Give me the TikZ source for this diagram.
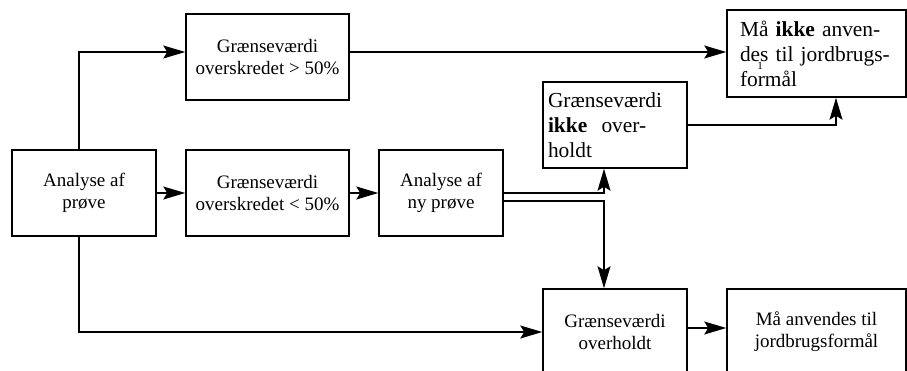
\documentclass[tikz,border=0pt]{standalone}
\usepackage{fontspec}
\setmainfont{Liberation Serif}
\usetikzlibrary{calc,arrows.meta}
\tikzset{
  boks/.style={draw,line width=1.5pt,rectangle,minimum height=86pt,inner sep=2pt,
    align=center,font=\fontsize{19}{22}\selectfont},
  vboks/.style={boks,align=left,font=\fontsize{21.4}{25}\selectfont},
  pil/.style={line width=1.2pt,-{Stealth[length=22pt,width=13pt,inset=4pt]}}
}

\begin{document}
\begin{tikzpicture}[x=1pt,y=-1pt]
				\useasboundingbox (0,0) rectangle (907,371);

	  			\node[boks,minimum width=144pt] 	(an)   at (84,193) 	{Analyse af\\prøve};
				\node[boks,minimum width=163pt] 	(gr1)  at (267.5,57) 	{Grænseværdi\\overskredet > 50\%};
				\node[boks,minimum width=163pt] 	(gr2)  at (267.5,193) 	{Grænseværdi\\overskredet < 50\%};
				\node[boks,minimum width=124pt] 	(ny)   at (441,193) 	{Analyse af\\ny prøve};
				\node[vboks,minimum width=144pt,inner xsep=5pt,text width=134pt] 	(ikke) at (615,125)
						{Grænseværdi\\\textbf{ikke}\ \ over-\\holdt};
				\node[vboks,minimum width=179pt,minimum height=87pt,inner xsep=13pt,text width=153pt] 	(mik)  at (816.5,53.5)
						{Må \textbf{ikke} anven-\\des til jordbrugs-\\formål};
				\node[font=\fontsize{11}{11}\selectfont,inner sep=0pt] 	(fn)   at (760,66) 	{1};
				\node[boks,minimum width=144pt] 	(ohd)  at (615,332) 	{Grænseværdi\\overholdt};
				\node[boks,minimum width=179pt] 	(ma)   at (816.5,332) 	{Må anvendes til\\jordbrugsformål};

				\draw[pil] ($(an.north)+(-5,0)$) |- ($(gr1.west)+(0,-5)$);
				\draw[pil] (an) -- (gr2);
				\draw[pil] (gr2) -- (ny);
				\draw[pil] ($(an.south)+(-5,0)$) |- (ohd.west);
				\draw[pil] ($(gr1.east)+(0,-5)$) -- ($(mik.west)+(0,-1.5)$);
				\draw[pil] (ny.east) -| ($(ikke.south)+(-11,0)$);
				\draw[pil] ($(ny.east)+(0,8)$) -| ($(ohd.north)+(-11,0)$);
				\draw[pil] (ikke.east) -| ($(mik.south)+(19.5,0)$);
				\draw[pil] ($(ohd.east)+(0,-4)$) -- ($(ma.west)+(0,-4)$);

\end{tikzpicture}
\end{document}
